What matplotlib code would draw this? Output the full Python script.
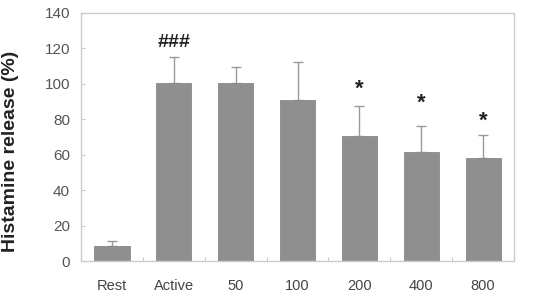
#!/usr/bin/env python3
"""Histamine release bar chart with upper error bars and significance marks."""

import matplotlib

matplotlib.use("Agg")
import matplotlib.pyplot as plt
import numpy as np

categories = ["Rest", "Active", "50", "100", "200", "400", "800"]
release = [8.6, 100.2, 100.7, 90.9, 70.6, 61.4, 58.0]
err_upper = [2.9, 14.8, 9.0, 21.6, 16.9, 14.6, 13.3]
marks = ["", "###", "", "", "*", "*", "*"]
mark_y = [0, 123, 0, 0, 97, 89, 79]

plt.rcParams["font.family"] = ["Liberation Sans", "DejaVu Sans"]

fig = plt.figure(figsize=(5.51, 3.06), dpi=100)
ax = fig.add_axes([0.147, 0.147, 0.786, 0.811])

x = np.arange(len(categories))
ax.bar(x, release, width=0.57, color="#8f8f8f", edgecolor="#8a8a8a", linewidth=0.6, zorder=2)
ax.errorbar(x, release, yerr=[np.zeros(len(x)), err_upper], fmt="none",
            ecolor="#9a9a9a", elinewidth=1.0, capsize=3.5, capthick=1.0, zorder=1)

for xi, label, yi in zip(x, marks, mark_y):
    if not label:
        continue
    size = 16 if label == "*" else 14
    ax.text(xi, yi, label, ha="center", va="center", fontsize=size,
            fontweight="bold", color="#222222")

ax.set_xlim(-0.5, len(categories) - 0.5)
ax.set_ylim(0, 140)
ax.set_yticks(np.arange(0, 141, 20))
ax.set_xticks(x)
ax.set_xticklabels(categories)
ax.set_xticks(np.arange(0.5, len(categories) - 0.5, 1), minor=True)
ax.tick_params(axis="x", which="major", length=0, pad=13, labelsize=10.5, labelcolor="#444444")
ax.tick_params(axis="x", which="minor", direction="in", length=3, color="#bbbbbb")
ax.tick_params(axis="y", direction="in", length=3, color="#cccccc", pad=8,
               labelsize=11, labelcolor="#555555")
for spine in ax.spines.values():
    spine.set_color("#cccccc")
    spine.set_linewidth(1.0)

ax.set_ylabel("Histamine release (%)", fontsize=14, fontweight="bold", color="#222222")
ax.yaxis.set_label_coords(-0.143, 0.44)

fig.savefig("out.png", dpi=100)
